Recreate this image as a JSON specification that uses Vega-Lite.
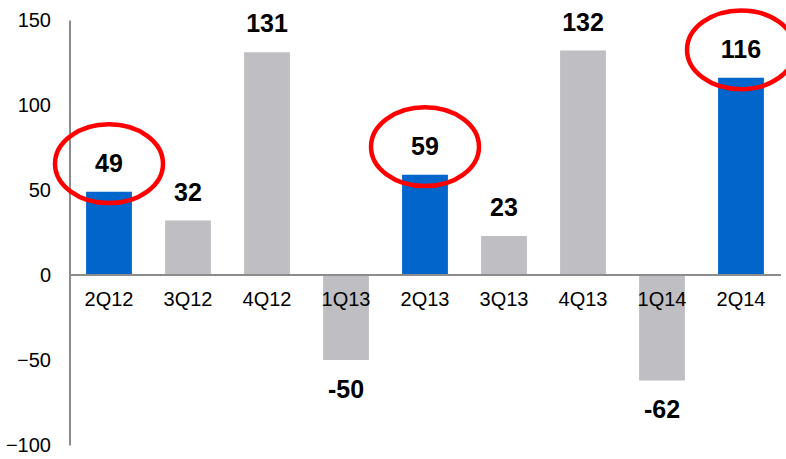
{
  "$schema": "https://vega.github.io/schema/vega-lite/v6.json",
  "width": 711,
  "height": 425,
  "autosize": {"type": "none"},
  "padding": {"left": 69.5, "top": 20, "right": 5.5, "bottom": 14},
  "background": "white",
  "config": {"view": {"stroke": null}, "font": "Liberation Sans"},
  "data": {
    "values": [
      {"q": "2Q12", "value": 49},
      {"q": "3Q12", "value": 32},
      {"q": "4Q12", "value": 131},
      {"q": "1Q13", "value": -50},
      {"q": "2Q13", "value": 59},
      {"q": "3Q13", "value": 23},
      {"q": "4Q13", "value": 132},
      {"q": "1Q14", "value": -62},
      {"q": "2Q14", "value": 116}
    ]
  },
  "encoding": {
    "x": {
      "field": "q",
      "type": "nominal",
      "sort": null,
      "axis": null,
      "scale": {"paddingInner": 0.42, "paddingOuter": 0.21}
    }
  },
  "layer": [
    {
      "mark": {"type": "bar"},
      "encoding": {
        "y": {
          "field": "value",
          "type": "quantitative",
          "scale": {"domain": [-100, 150], "nice": false, "zero": false},
          "axis": {
            "values": [-100, -50, 0, 50, 100, 150],
            "title": null,
            "grid": false,
            "ticks": false,
            "labelPadding": 19,
            "labelFontSize": 20,
            "labelColor": "#000000",
            "labelFont": "Liberation Sans",
            "domainColor": "#8c8c8c",
            "domainWidth": 2
          }
        },
        "color": {
          "condition": {"test": "indexof(datum.q, '2Q') == 0", "value": "#0066cc"},
          "value": "#bebec3"
        }
      }
    },
    {
      "mark": {"type": "rule", "color": "#8c8c8c", "strokeWidth": 2},
      "encoding": {"y": {"datum": 0}, "x": null}
    },
    {
      "mark": {"type": "text", "fontSize": 20, "color": "#000000", "dy": 25, "baseline": "middle"},
      "encoding": {"y": {"datum": 0}, "text": {"field": "q"}}
    },
    {
      "transform": [{"filter": "datum.value >= 0"}],
      "mark": {"type": "text", "fontSize": 25, "fontWeight": "bold", "color": "#000000", "dy": -28, "baseline": "middle"},
      "encoding": {"y": {"field": "value", "type": "quantitative"}, "text": {"field": "value"}}
    },
    {
      "transform": [{"filter": "datum.value < 0"}],
      "mark": {"type": "text", "fontSize": 25, "fontWeight": "bold", "color": "#000000", "dy": 30, "baseline": "middle"},
      "encoding": {"y": {"field": "value", "type": "quantitative"}, "text": {"field": "value"}}
    },
    {
      "transform": [{"filter": "indexof(datum.q, '2Q') == 0"}],
      "mark": {
        "type": "point",
        "shape": "M -1 0 A 1 0.73 0 1 1 1 0 A 1 0.73 0 1 1 -1 0 Z",
        "filled": false,
        "stroke": "#ff0000",
        "strokeWidth": 4.5,
        "opacity": 1,
        "size": 11664,
        "yOffset": -28
      },
      "encoding": {"y": {"field": "value", "type": "quantitative"}}
    }
  ]
}
